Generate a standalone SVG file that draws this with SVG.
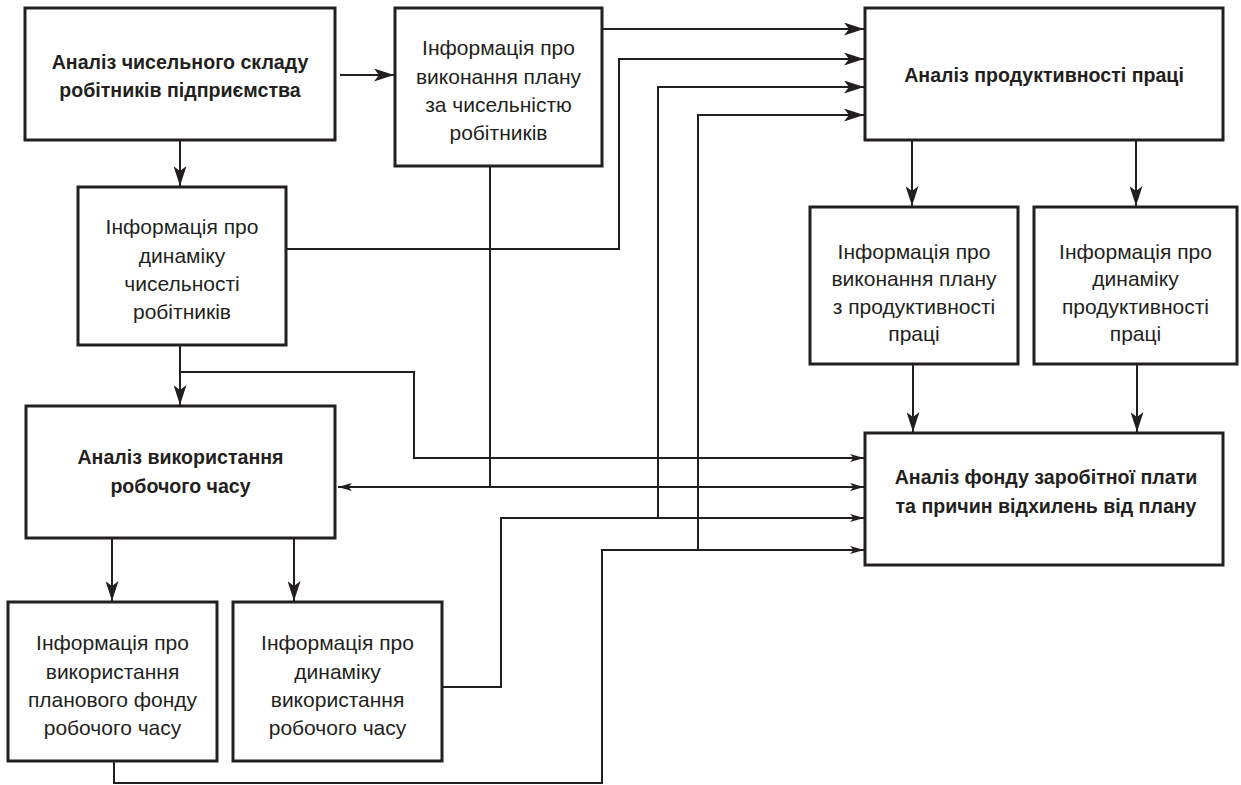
<svg xmlns="http://www.w3.org/2000/svg" width="1241" height="785" viewBox="0 0 1241 785">
<style>
.box{fill:#fff;stroke:#231f20;stroke-width:3}
.t{font-family:"Liberation Sans",Arial,sans-serif;font-size:21px;fill:#231f20;text-anchor:middle}
.b{font-weight:bold;font-size:19.6px}
.ln{fill:none;stroke:#231f20;stroke-width:2}
.big{marker-end:url(#ah)}
.sm{marker-end:url(#as)}
</style>
<defs>
<marker id="ah" markerUnits="userSpaceOnUse" markerWidth="20" markerHeight="13" refX="20" refY="6.5" orient="auto">
<path d="M0,0 L20,6.5 L0,13 L5,6.5 Z" fill="#231f20"/>
</marker>
<marker id="as" markerUnits="userSpaceOnUse" markerWidth="14" markerHeight="8" refX="14" refY="4" orient="auto">
<path d="M0,0 L14,4 L0,8 L3.5,4 Z" fill="#231f20"/>
</marker>
</defs>
<rect width="1241" height="785" fill="#fff"/>

<g id="connectors">
<line class="ln big" x1="340" y1="75" x2="394" y2="75"/>
<line class="ln big" x1="180" y1="140" x2="180" y2="186"/>
<line class="ln big" x1="180" y1="345" x2="180" y2="405"/>
<polyline class="ln sm" points="180,372 414,372 414,458 864,458"/>
<polyline class="ln big" points="286,249 619,249 619,59 864,59"/>
<line class="ln big" x1="602" y1="29" x2="864" y2="29"/>
<line class="ln" x1="490" y1="166" x2="490" y2="487"/>
<line class="ln sm" x1="490" y1="487" x2="864" y2="487"/>
<line class="ln sm" x1="490" y1="487" x2="338" y2="487"/>
<polyline class="ln sm" points="442,687 501,687 501,518 864,518"/>
<polyline class="ln big" points="658,518 658,87 864,87"/>
<polyline class="ln sm" points="114,761 114,783 602,783 602,550 864,550"/>
<polyline class="ln big" points="698,550 698,115 864,115"/>
<line class="ln big" x1="912" y1="140" x2="912" y2="206"/>
<line class="ln big" x1="1136" y1="140" x2="1136" y2="206"/>
<line class="ln big" x1="913" y1="364" x2="913" y2="432"/>
<line class="ln big" x1="1137" y1="364" x2="1137" y2="432"/>
<line class="ln big" x1="112" y1="538" x2="112" y2="601"/>
<line class="ln big" x1="294" y1="538" x2="294" y2="601"/>
</g>

<g id="node-a">
<rect class="box" x="25" y="8" width="310" height="132"/>
<text class="t b" x="180" y="69">Аналіз чисельного складу</text>
<text class="t b" x="180" y="97">робітників підприємства</text>
</g>

<g id="node-b">
<rect class="box" x="395" y="8" width="207" height="158"/>
<text class="t" x="498.5" y="55">Інформація про</text>
<text class="t" x="498.5" y="84">виконання плану</text>
<text class="t" x="498.5" y="112">за чисельністю</text>
<text class="t" x="498.5" y="140">робітників</text>
</g>

<g id="node-c">
<rect class="box" x="865" y="8" width="358" height="132"/>
<text class="t b" x="1044" y="82">Аналіз продуктивності праці</text>
</g>

<g id="node-d">
<rect class="box" x="78" y="187" width="208" height="158"/>
<text class="t" x="182" y="234">Інформація про</text>
<text class="t" x="182" y="263">динаміку</text>
<text class="t" x="182" y="291">чисельності</text>
<text class="t" x="182" y="319">робітників</text>
</g>

<g id="node-e">
<rect class="box" x="26" y="406" width="309" height="132"/>
<text class="t b" x="180.5" y="464">Аналіз використання</text>
<text class="t b" x="180.5" y="493">робочого часу</text>
</g>

<g id="node-f">
<rect class="box" x="810" y="207" width="208" height="157"/>
<text class="t" x="914" y="259">Інформація про</text>
<text class="t" x="914" y="286">виконання плану</text>
<text class="t" x="914" y="314">з продуктивності</text>
<text class="t" x="914" y="341">праці</text>
</g>

<g id="node-g">
<rect class="box" x="1034" y="207" width="203" height="157"/>
<text class="t" x="1135.5" y="259">Інформація про</text>
<text class="t" x="1135.5" y="286">динаміку</text>
<text class="t" x="1135.5" y="314">продуктивності</text>
<text class="t" x="1135.5" y="341">праці</text>
</g>

<g id="node-fond">
<rect class="box" x="865" y="433" width="358" height="132"/>
<text class="t b" x="1046" y="484">Аналіз фонду заробітної плати</text>
<text class="t b" x="1046" y="513">та причин відхилень від плану</text>
</g>

<g id="node-h">
<rect class="box" x="8" y="602" width="209" height="159"/>
<text class="t" x="112.5" y="650">Інформація про</text>
<text class="t" x="112.5" y="679">використання</text>
<text class="t" x="112.5" y="707">планового фонду</text>
<text class="t" x="112.5" y="735">робочого часу</text>
</g>

<g id="node-i">
<rect class="box" x="233" y="602" width="209" height="159"/>
<text class="t" x="337.5" y="650">Інформація про</text>
<text class="t" x="337.5" y="679">динаміку</text>
<text class="t" x="337.5" y="707">використання</text>
<text class="t" x="337.5" y="735">робочого часу</text>
</g>
</svg>
